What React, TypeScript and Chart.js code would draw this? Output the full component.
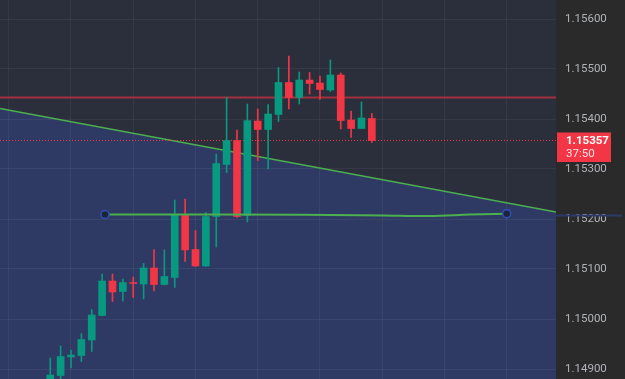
import React, { useEffect, useRef } from "react";
import { Chart, registerables } from "chart.js";

// ---- data ----
const candleIndex = [0, 1, 2, 3, 4, 5, 6, 7, 8, 9, 10, 11, 12, 13, 14, 15, 16, 17, 18, 19, 20, 21, 22, 23, 24, 25, 26, 27, 28, 29, 30, 31];
const opens = [1.14868, 1.14887, 1.14924, 1.14927, 1.14958, 1.15007, 1.15076, 1.15055, 1.15073, 1.1507, 1.15102, 1.15069, 1.15083, 1.15207, 1.15139, 1.15106, 1.15205, 1.15309, 1.15357, 1.15207, 1.15396, 1.15379, 1.15409, 1.15473, 1.15443, 1.15478, 1.15472, 1.15458, 1.15488, 1.15398, 1.15381, 1.15401];
const highs = [1.14922, 1.14946, 1.14938, 1.14971, 1.15019, 1.1509, 1.1509, 1.1508, 1.15084, 1.15111, 1.15139, 1.15138, 1.15238, 1.1524, 1.15177, 1.15213, 1.1533, 1.15443, 1.15378, 1.1543, 1.1542, 1.15429, 1.15503, 1.15526, 1.15494, 1.15493, 1.15486, 1.15518, 1.15492, 1.15416, 1.15434, 1.15411];
const lows = [1.1486, 1.14876, 1.14902, 1.14915, 1.14935, 1.15006, 1.15035, 1.15036, 1.15043, 1.1504, 1.15056, 1.15068, 1.15063, 1.15115, 1.15105, 1.15105, 1.15144, 1.15293, 1.15203, 1.15194, 1.15317, 1.153, 1.15395, 1.1542, 1.1543, 1.1545, 1.15439, 1.15455, 1.1538, 1.15363, 1.15381, 1.15353];
const closes = [1.14888, 1.14925, 1.14928, 1.14959, 1.15008, 1.15076, 1.15054, 1.15073, 1.15071, 1.15102, 1.15069, 1.15085, 1.15208, 1.15138, 1.15106, 1.15205, 1.15311, 1.15357, 1.15205, 1.15397, 1.15379, 1.1541, 1.15473, 1.15443, 1.15478, 1.15471, 1.15459, 1.15488, 1.15397, 1.15381, 1.15402, 1.15357];

const yTicks = [1.149, 1.15, 1.151, 1.152, 1.153, 1.154, 1.155, 1.156];
const xGridTicks = [-4, 2, 8, 14, 20, 26, 32, 38, 44];

const trendX = [-4.84, 48.75];
const trendY = [1.15421, 1.15214];
const resistanceX = [-4.84, 48.75];
const resistanceY = [1.15443, 1.15443];
const pathX = [5.28, 16, 24.07, 32.07, 36.6, 40.46, 44.0];
const pathY = [1.15209, 1.15209, 1.152086, 1.15207, 1.15206, 1.15209, 1.152106];
const timerLabel = "37:50";

const X_MIN = -4.843;
const X_MAX = 48.75;
const Y_MIN = 1.1488;
const Y_MAX = 1.15638;

const UP = "#089981";
const DOWN = "#f23645";
const lastClose = closes[closes.length - 1];

const bgPlugin = {
  id: "bgPaint",
  beforeDraw(chart: any) {
    const { ctx, chartArea, width, height } = chart;
    ctx.save();
    ctx.fillStyle = "#2a2a2a";
    ctx.fillRect(0, 0, width, height);
    ctx.fillStyle = "#2b2e3b";
    ctx.fillRect(chartArea.left, chartArea.top, chartArea.right - chartArea.left, chartArea.bottom - chartArea.top);
    ctx.restore();
  },
};

Chart.register(bgPlugin);
Chart.register(...registerables);

const tagPlugin = {
  id: "priceTag",
  afterDraw(chart: any) {
    const { ctx, chartArea } = chart;
    const ys = chart.scales.y;
    const sy = ys.getPixelForValue(pathY[0]);
    ctx.save();
    ctx.fillStyle = "#2c3a6a";
    ctx.fillRect(chartArea.right, sy, 66, 2);
    const py = ys.getPixelForValue(lastClose);
    ctx.fillStyle = DOWN;
    ctx.fillRect(chartArea.right + 1, py - 8, 54, 29.5);
    ctx.textBaseline = "middle";
    ctx.textAlign = "left";
    ctx.fillStyle = "#ffffff";
    ctx.font = "bold 11.5px Roboto";
    ctx.fillText(lastClose.toFixed(5), chartArea.right + 10, py + 1);
    ctx.fillStyle = "rgba(255,255,255,0.85)";
    ctx.font = "11.5px Roboto";
    ctx.fillText(timerLabel, chartArea.right + 10, py + 14);
    ctx.restore();
  },
};

const zeroPad = (s: any) => {
  s.paddingTop = 0;
  s.paddingBottom = 0;
  s.paddingLeft = 0;
  s.paddingRight = 0;
};

export default function App() {
  const ref = useRef<HTMLCanvasElement | null>(null);
  useEffect(() => {
    if (!ref.current) return;
    const colors = candleIndex.map((_, i) => (closes[i] >= opens[i] ? UP : DOWN));
    const chart = new Chart(ref.current, {
      type: "bar",
      data: {
        datasets: [
          {
            type: "line",
            data: trendX.map((x, i) => ({ x, y: trendY[i] })),
            borderColor: "#4caf50",
            borderWidth: 1.5,
            backgroundColor: "#2e3a63",
            fill: "start",
            pointRadius: 0,
            order: 10,
          } as any,
          {
            type: "line",
            data: resistanceX.map((x, i) => ({ x, y: resistanceY[i] })),
            borderColor: "#a3303f",
            borderWidth: 2,
            pointRadius: 0,
            fill: false,
            order: 9,
          } as any,
          {
            type: "line",
            data: resistanceX.map((x) => ({ x, y: lastClose })),
            borderColor: DOWN,
            borderWidth: 1,
            borderDash: [1, 2],
            pointRadius: 0,
            fill: false,
            order: 8,
          } as any,
          {
            type: "bar",
            data: candleIndex.map((x, i) => ({ x, y: [lows[i], highs[i]] })),
            backgroundColor: colors,
            barThickness: 1,
            grouped: false,
            minBarLength: 1,
            order: 5,
          } as any,
          {
            type: "bar",
            data: candleIndex.map((x, i) => ({ x, y: [opens[i], closes[i]] })),
            backgroundColor: colors,
            barThickness: 7,
            grouped: false,
            minBarLength: 1,
            order: 4,
          } as any,
          {
            type: "line",
            data: pathX.map((x, i) => ({ x, y: pathY[i] })),
            borderColor: "#4caf50",
            borderWidth: 2,
            cubicInterpolationMode: "monotone",
            pointRadius: pathX.map((_, i) => (i === 0 || i === pathX.length - 1 ? 4 : 0)),
            pointBackgroundColor: "#1f2336",
            pointBorderColor: "#2f4fbf",
            pointBorderWidth: 1.5,
            fill: false,
            order: 1,
          } as any,
        ],
      },
      options: {
        animation: false,
        responsive: true,
        maintainAspectRatio: false,
        layout: { padding: 0, autoPadding: false },
        plugins: {
          legend: { display: false },
          tooltip: { enabled: false },
          filler: { drawTime: "beforeDraw" },
        } as any,
        scales: {
          x: {
            type: "linear",
            min: X_MIN,
            max: X_MAX,
            offset: false,
            afterBuildTicks: (s: any) => {
              s.ticks = xGridTicks.map((v) => ({ value: v }));
            },
            afterFit: (s: any) => {
              s.height = 0;
              zeroPad(s);
            },
            ticks: { display: false },
            border: { display: false },
            grid: { color: "rgba(255,255,255,0.055)", drawTicks: false, lineWidth: 1, offset: false },
          },
          y: {
            type: "linear",
            position: "right",
            min: Y_MIN,
            max: Y_MAX,
            afterBuildTicks: (s: any) => {
              s.ticks = yTicks.map((v) => ({ value: v }));
            },
            afterFit: (s: any) => {
              s.width = 69;
              zeroPad(s);
            },
            border: { display: false },
            grid: { color: "rgba(255,255,255,0.055)", drawTicks: false, lineWidth: 1 },
            ticks: {
              padding: 9,
              color: "#b0b3b8",
              font: { family: "Roboto", size: 11.5 },
              callback: (v: any) => Number(v).toFixed(5),
            },
          },
        },
      } as any,
      plugins: [tagPlugin],
    });
    return () => chart.destroy();
  }, []);
  return (
    <div style={{ position: "fixed", left: 0, top: 0, width: 625, height: 379 }}>
      <canvas ref={ref} />
    </div>
  );
}
